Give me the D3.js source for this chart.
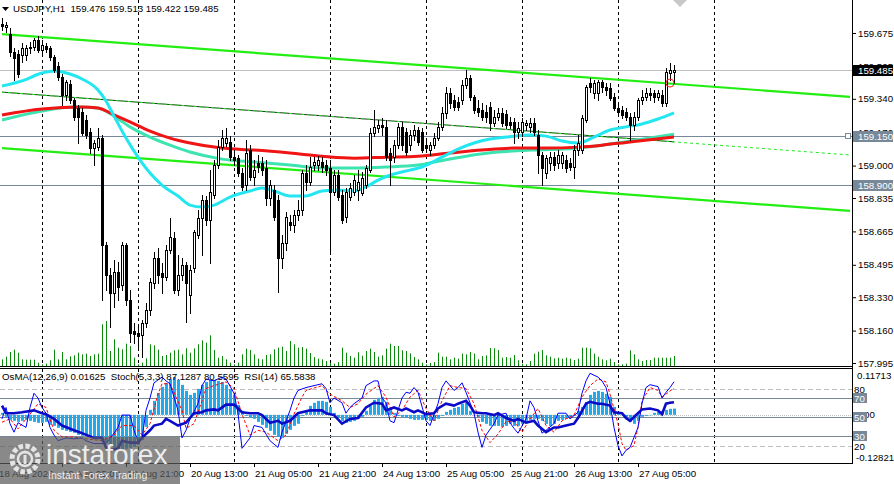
<!DOCTYPE html>
<html><head><meta charset="utf-8">
<script src="https://cdn.jsdelivr.net/npm/d3@7"></script>
<style>
html,body{margin:0;padding:0;background:#fff;}
svg{display:block;font-family:"Liberation Sans",Arial,sans-serif;}
</style></head>
<body><svg id="c" width="894" height="484"></svg>
<script>
// ---------- DATA ----------
const symbolTitle = "USDJPY,H1  159.476 159.513 159.422 159.485";
const indTitle = "OsMA(12,26,9) 0.01625  Stoch(5,3,3) 87.1287 80.5595  RSI(14) 65.5838";

const openP = [
159.721,159.705,159.670,159.578,159.568,159.563,159.563,159.598,159.603,159.639,
159.588,159.609,159.598,159.552,159.507,159.451,159.360,159.416,159.334,159.293,
159.273,159.232,159.171,159.089,159.094,159.140,158.596,158.443,158.351,158.458,
158.392,158.596,158.315,158.158,158.148,158.138,158.198,158.264,158.402,158.529,
158.453,158.433,158.570,158.631,158.366,158.443,158.494,158.341,158.478,158.647,
158.733,158.825,158.723,158.850,159.003,159.094,159.115,159.120,159.043,159.038,
158.962,158.901,159.079,158.942,159.013,159.013,158.988,158.835,158.876,158.825,
158.529,158.606,158.713,158.698,158.748,158.774,158.962,158.916,159.003,159.003,
159.018,159.003,158.988,158.866,158.952,158.850,158.738,158.840,158.866,158.876,
158.860,158.901,158.977,159.166,159.191,159.207,159.197,159.064,159.043,159.104,
159.197,159.171,159.104,159.156,159.181,159.171,159.104,159.079,159.104,159.140,
159.197,159.268,159.370,159.334,159.324,159.334,159.410,159.446,159.349,159.293,
159.283,159.273,159.298,159.217,159.247,159.268,159.263,159.222,159.222,159.171,
159.171,159.207,159.197,159.217,159.156,159.053,158.962,159.013,159.043,159.013,
159.013,159.028,159.013,158.993,159.079,159.079,159.232,159.421,159.370,159.370,
159.426,159.400,159.395,159.349,159.293,159.283,159.273,159.247,159.207,159.247,
159.334,159.349,159.370,159.370,159.349,159.360,159.319,159.471,159.476];
const highP = [
159.751,159.731,159.700,159.598,159.588,159.624,159.614,159.629,159.649,159.659,
159.639,159.624,159.609,159.563,159.527,159.466,159.436,159.436,159.344,159.309,
159.293,159.258,159.191,159.130,159.191,159.156,158.611,158.478,158.519,158.509,
158.611,158.606,158.366,158.198,158.178,158.213,158.300,158.428,158.560,158.580,
158.504,158.596,158.733,158.662,158.545,158.529,158.509,158.494,158.672,158.774,
158.850,158.845,158.977,159.028,159.130,159.181,159.191,159.150,159.079,159.053,
158.988,159.130,159.104,159.028,159.053,159.043,159.028,158.926,158.901,158.850,
158.647,158.764,158.748,158.774,158.825,158.977,159.003,159.043,159.043,159.048,
159.043,159.028,159.028,158.977,158.977,158.876,158.886,158.911,158.952,158.977,
158.967,159.003,159.191,159.283,159.232,159.242,159.232,159.089,159.130,159.216,
159.222,159.191,159.181,159.207,159.197,159.191,159.140,159.120,159.166,159.222,
159.298,159.400,159.395,159.360,159.349,159.436,159.487,159.461,159.360,159.334,
159.319,159.309,159.324,159.283,159.293,159.293,159.283,159.247,159.242,159.222,
159.242,159.232,159.242,159.242,159.181,159.069,159.053,159.069,159.069,159.079,
159.069,159.053,159.038,159.104,159.156,159.258,159.410,159.446,159.436,159.436,
159.436,159.421,159.421,159.370,159.314,159.303,159.293,159.268,159.273,159.344,
159.385,159.395,159.395,159.385,159.385,159.385,159.497,159.522,159.513];
const lowP = [
159.690,159.680,159.557,159.436,159.451,159.527,159.537,159.573,159.588,159.578,
159.573,159.578,159.537,159.477,159.436,159.309,159.334,159.319,159.232,159.115,
159.156,159.140,159.064,159.003,159.079,158.315,158.366,158.178,158.280,158.315,
158.366,158.290,158.102,158.097,158.061,158.025,158.178,158.239,158.376,158.402,
158.351,158.417,158.555,158.351,158.341,158.417,158.203,158.249,158.458,158.631,
158.545,158.698,158.504,158.835,158.988,159.079,159.099,159.028,159.003,158.947,
158.876,158.876,158.926,158.901,158.967,158.952,158.799,158.799,158.723,158.356,
158.478,158.570,158.672,158.662,158.723,158.748,158.876,158.901,158.977,158.977,
158.967,158.952,158.555,158.850,158.825,158.708,158.713,158.825,158.850,158.825,
158.850,158.886,158.967,159.150,159.171,159.156,159.028,158.901,159.018,159.089,
159.079,159.053,159.079,159.130,159.104,159.069,159.069,159.053,159.089,159.130,
159.181,159.242,159.293,159.283,159.283,159.314,159.395,159.334,159.268,159.253,
159.232,159.222,159.181,159.202,159.232,159.202,159.191,159.191,159.115,159.140,
159.150,159.181,159.171,159.156,158.962,158.901,158.937,158.977,158.977,158.988,
158.988,158.967,158.977,158.937,159.053,159.064,159.222,159.375,159.344,159.334,
159.375,159.360,159.334,159.283,159.258,159.242,159.232,159.130,159.181,159.232,
159.314,159.334,159.334,159.324,159.334,159.303,159.303,159.436,159.422];
const closeP = [
159.710,159.716,159.578,159.547,159.467,159.598,159.598,159.603,159.639,159.588,
159.614,159.593,159.552,159.487,159.451,159.360,159.426,159.334,159.247,159.247,
159.166,159.156,159.089,159.115,159.140,158.596,158.443,158.351,158.458,158.382,
158.596,158.315,158.148,158.143,158.132,158.198,158.264,158.407,158.529,158.443,
158.433,158.570,158.636,158.366,158.443,158.494,158.402,158.468,158.662,158.733,
158.825,158.723,158.866,159.003,159.094,159.140,159.140,159.043,159.028,158.962,
158.891,159.064,158.942,158.977,158.993,158.977,158.835,158.901,158.738,158.529,
158.606,158.738,158.698,158.748,158.774,158.962,158.916,158.993,159.018,159.028,
158.993,158.977,158.866,158.952,158.840,158.723,158.866,158.886,158.926,158.916,
158.936,158.988,159.166,159.197,159.207,159.197,159.043,159.028,159.104,159.197,
159.104,159.069,159.156,159.181,159.120,159.079,159.089,159.104,159.140,159.197,
159.268,159.370,159.319,159.298,159.298,159.410,159.446,159.349,159.283,159.273,
159.247,159.247,159.217,159.247,159.268,159.217,159.207,159.207,159.171,159.191,
159.222,159.217,159.217,159.171,159.053,158.988,159.038,159.043,159.003,159.053,
159.053,158.988,158.993,159.079,159.115,159.242,159.400,159.400,159.421,159.426,
159.400,159.385,159.344,159.293,159.273,159.258,159.247,159.207,159.247,159.334,
159.349,159.370,159.360,159.349,159.370,159.319,159.476,159.487,159.485];
const volumeP = [
200,280,420,490,400,200,190,190,190,100,
50,70,170,490,200,420,200,290,320,400,
350,370,300,350,370,1250,1350,450,800,550,
500,670,600,250,50,100,230,650,620,490,
300,330,400,470,490,350,530,400,530,650,
770,700,920,480,250,300,200,100,50,100,
350,520,480,350,220,200,330,350,500,550,
580,450,750,650,550,570,520,390,270,220,
200,150,100,70,120,550,400,300,250,410,
310,450,520,420,280,320,520,670,600,600,
470,450,380,270,200,100,50,90,120,400,
280,280,200,250,220,370,350,420,370,200,
300,320,540,530,480,250,270,250,330,170,
70,50,150,370,430,480,320,280,230,250,
220,250,220,180,220,550,550,530,370,280,
200,170,220,120,50,50,70,470,350,200,
150,180,180,250,250,250,250,250,300];

// moving averages: [bar index, price]
const maFast = [[0,159.405],[5,159.431],[10,159.471],[13,159.482],[17,159.466],[20,159.441],[24,159.385],[26,159.329],[28,159.252],[31,159.140],[34,159.043],[37,158.962],[40,158.901],[44,158.845],[47,158.799],[50,158.789],[53,158.799],[57,158.840],[62,158.871],[65,158.886],[68,158.871],[72,158.845],[76,158.845],[80,158.871],[84,158.876],[88,158.871],[91,158.891],[94,158.926],[98,158.957],[102,158.977],[105,158.993],[110,159.043],[114,159.084],[118,159.115],[122,159.135],[126,159.145],[132,159.156],[136,159.150],[140,159.125],[144,159.115],[148,159.145],[152,159.181],[156,159.197],[160,159.212],[164,159.237],[168,159.268]];
const maSlow = [[0,159.258],[10,159.288],[20,159.298],[24,159.293],[28,159.258],[32,159.222],[37,159.176],[42,159.140],[47,159.115],[55,159.089],[63,159.079],[72,159.064],[80,159.048],[88,159.038],[96,159.043],[104,159.048],[112,159.064],[120,159.079],[128,159.089],[136,159.089],[144,159.094],[150,159.104],[156,159.118],[162,159.132],[168,159.145]];
const maMid = [[0,159.232],[10,159.278],[18,159.298],[24,159.293],[28,159.252],[32,159.197],[37,159.145],[42,159.104],[47,159.069],[55,159.033],[63,159.018],[72,159.003],[80,158.988],[88,158.988],[96,158.993],[104,159.003],[108,159.018],[116,159.048],[124,159.069],[132,159.079],[140,159.084],[148,159.099],[156,159.122],[162,159.140],[168,159.160]];

// channel trend lines [bar index, price]
const chanUpper = [[0,159.669],[212,159.350]];
const chanMiddle = [[0,159.374],[212,159.054]];
const chanMiddleDark = [[0,159.374],[168,159.121]];
const chanLower = [[0,159.089],[212,158.769]];

const bidLevel = 159.485;
const hLevels = [159.150, 158.900];
const priceTicks = [159.675,159.505,159.340,159.170,159.000,158.835,158.665,158.495,158.330,158.160,157.995];
const alertMark = [167, 159.420];

const daySepIdx = [10,34,58,82,106,130,154,178];
const xLabelIdx = [-1,15,31,47,63,79,95,111,127,143,159];
const xLabelText = ["18 Aug 2026","19 Aug 05:00","19 Aug 21:00","20 Aug 13:00","21 Aug 05:00","21 Aug 21:00","24 Aug 13:00","25 Aug 05:00","25 Aug 21:00","26 Aug 13:00","27 Aug 05:00"];

// OsMA histogram (one value per bar)
const osma = [
0.0052,-0.0052,-0.0129,-0.0155,-0.0181,-0.0155,-0.0129,-0.0155,-0.0181,-0.0206,
-0.0206,-0.0181,-0.0258,-0.0284,-0.0335,-0.0387,-0.0413,-0.0439,-0.0464,-0.0516,
-0.0542,-0.0542,-0.0568,-0.0593,-0.0593,-0.0645,-0.0722,-0.0800,-0.0851,-0.0877,
-0.0903,-0.0877,-0.0851,-0.0826,-0.0774,-0.0645,-0.0310,0.0129,0.0361,0.0568,
0.0722,0.0826,0.0929,0.0980,0.0903,0.0774,0.0619,0.0516,0.0568,0.0671,
0.0774,0.0851,0.0903,0.0903,0.0877,0.0851,0.0774,0.0671,0.0516,0.0258,
0.0103,-0.0026,-0.0077,-0.0103,-0.0181,-0.0258,-0.0335,-0.0413,-0.0516,-0.0568,
-0.0593,-0.0490,-0.0387,-0.0284,-0.0232,-0.0026,0.0077,0.0232,0.0310,0.0361,
0.0361,0.0335,0.0206,0.0052,-0.0077,-0.0155,-0.0206,-0.0181,-0.0155,-0.0103,
-0.0052,0.0103,0.0232,0.0387,0.0439,0.0464,0.0335,0.0181,0.0052,-0.0026,
-0.0052,-0.0077,-0.0103,-0.0129,-0.0129,-0.0129,-0.0129,-0.0155,-0.0155,-0.0103,
-0.0026,0.0077,0.0129,0.0181,0.0206,0.0284,0.0310,0.0103,0.0000,-0.0052,
-0.0181,-0.0232,-0.0284,-0.0284,-0.0284,-0.0310,-0.0284,-0.0232,-0.0284,-0.0284,
-0.0232,-0.0181,-0.0129,-0.0103,-0.0103,-0.0155,-0.0232,-0.0284,-0.0232,-0.0155,
-0.0129,-0.0103,-0.0052,-0.0026,0.0103,0.0206,0.0335,0.0516,0.0593,0.0619,
0.0593,0.0542,0.0464,0.0206,0.0026,0.0000,-0.0052,-0.0181,-0.0232,-0.0155,
-0.0052,-0.0026,0.0000,0.0052,0.0077,0.0103,0.0129,0.0155,0.01625];

// Stochastic main / signal and RSI: [bar index, value]
const stochMain = [[0,48],[1,60],[2,43],[3,34],[4,44],[6,39],[7,60],[8,75],[9,70],[10,60],[11,54],[12,39],[13,31],[14,25],[16,28],[18,27],[20,28],[21,25],[23,22],[25,22],[26,22],[28,33],[29,39],[30,52],[32,52],[33,36],[34,25],[35,27],[36,57],[37,70],[38,86],[40,92],[41,88],[42,85],[44,57],[45,28],[46,36],[47,48],[49,64],[50,83],[51,90],[53,88],[55,92],[56,90],[58,75],[59,54],[60,17],[62,28],[63,41],[65,39],[67,25],[69,18],[70,34],[72,57],[73,70],[74,78],[76,81],[78,83],[80,85],[81,80],[82,65],[83,70],[85,65],[86,54],[87,60],[88,64],[90,70],[91,83],[93,88],[94,88],[95,70],[96,65],[97,46],[98,44],[100,70],[101,76],[102,75],[103,81],[104,76],[106,46],[107,41],[109,64],[110,81],[111,88],[112,83],[113,78],[114,81],[115,86],[116,76],[118,54],[119,34],[120,18],[121,31],[123,43],[124,52],[126,54],[127,44],[128,38],[129,33],[131,48],[132,67],[133,60],[134,46],[135,33],[136,36],[138,43],[139,54],[141,54],[142,48],[144,55],[145,75],[146,88],[147,96],[149,92],[150,88],[151,81],[152,64],[153,39],[154,20],[155,9],[156,15],[157,18],[159,39],[160,64],[161,81],[162,84],[164,82],[165,70],[166,76],[167,81],[168,87.1287]];
const stochSignal = [[0,44.5],[2,48],[4,37.5],[7,53],[9,64],[11,60],[13,36],[15,29],[18,29],[21,27],[25,25],[28,31],[30,41],[33,41],[35,31],[37,43],[39,74],[40,85],[42,85],[45,57],[46,38],[48,43],[50,67],[51,80],[53,83],[56,87],[58,80],[60,53],[62,31],[64,36],[66,34],[69,25],[71,31],[73,53],[75,71],[76,78],[80,83],[82,74],[85,67],[87,60],[89,64],[91,74],[94,83],[96,71],[98,50],[100,57],[102,71],[104,78],[106,59],[108,46],[110,67],[112,83],[114,81],[116,80],[118,64],[120,36],[122,23],[124,32],[126,45],[128,46],[130,34],[132,48],[134,59],[136,41],[138,34],[140,46],[143,52],[145,71],[147,83],[149,90],[151,87],[152,74],[154,43],[155,22],[156,15],[158,20],[159,39],[160,67],[162,81],[164,78],[165,71],[166,74],[168,80.5595]];
const rsi = [[0,62],[1,54],[3,54],[5,55],[8,57],[10,54],[11,53],[13,48],[15,41],[18,36],[20,33],[23,28],[25,28],[26,18],[27,15],[29,17],[30,25],[32,23],[34,23],[35,28],[37,36],[38,41],[40,43],[41,48],[42,46],[44,41],[46,44],[48,54],[50,55],[51,57],[53,58],[54,57],[56,63],[58,63],[59,59],[60,55],[62,54],[64,54],[65,52],[67,44],[69,46],[70,43],[72,46],[74,54],[77,57],[80,57],[81,54],[83,52],[85,43],[87,48],[89,49],[91,60],[93,65],[95,64],[96,57],[98,60],[100,57],[101,59],[103,55],[104,57],[106,53],[108,54],[109,59],[111,64],[113,62],[114,64],[116,67],[117,62],[118,55],[120,54],[121,54],[123,52],[124,54],[126,49],[128,46],[129,48],[131,44],[133,46],[134,41],[136,34],[138,39],[139,39],[141,41],[143,43],[144,49],[146,64],[147,66],[149,64],[150,64],[152,62],[153,55],[155,54],[156,49],[157,46],[159,54],[160,58],[162,59],[164,57],[165,53],[166,64],[167,65],[168,65.5838]];
const oscLevelsSolid = [70,50,30];
const oscLevelsDash = [80,20];
const osmaRange = [-0.12821, 0.11713];

// ---------- LAYOUT ----------
const svg = d3.select('#c');
const AX = 852, MB = 366, IT = 369, IB = 464;
const x = d3.scaleLinear().domain([0,212]).range([2,850]);
const y = d3.scaleLinear().domain([157.995,159.675]).range([363,33]);
const yVol = d3.scaleLinear().domain([0,1350]).range([MB,321]);
const yOsc = d3.scaleLinear().domain([0,100]).range([464.5,369.5]);
const yOsma = d3.scaleLinear().domain(osmaRange).range([464.5,369.5]);
const px = i => Math.round(x(i));

const defs = svg.append('defs');
defs.append('clipPath').attr('id','cm').append('rect').attr('x',0).attr('y',0).attr('width',AX).attr('height',MB);
defs.append('clipPath').attr('id','ci').append('rect').attr('x',0).attr('y',IT).attr('width',AX).attr('height',IB-IT-1);

const main = svg.append('g').attr('clip-path','url(#cm)');
const ind = svg.append('g').attr('clip-path','url(#ci)');

// day separators
daySepIdx.filter(i=>x(i)<AX-40).forEach(i=>{
  const xx = px(i)+0.5;
  main.append('line').attr('x1',xx).attr('x2',xx).attr('y1',0).attr('y2',MB)
    .attr('stroke','#000').attr('stroke-dasharray','3,3');
  ind.append('line').attr('x1',xx).attr('x2',xx).attr('y1',IT).attr('y2',IB)
    .attr('stroke','#000').attr('stroke-dasharray','3,3');
});

// horizontal levels
main.append('line').attr('x1',0).attr('x2',AX).attr('y1',Math.round(y(bidLevel))+0.5).attr('y2',Math.round(y(bidLevel))+0.5)
  .attr('stroke','#c0c0c0');
hLevels.forEach(v=>{
  const yy = Math.round(y(v))+0.5;
  main.append('line').attr('x1',0).attr('x2',AX).attr('y1',yy).attr('y2',yy).attr('stroke','#778899');
});
{
  const yy = Math.round(y(hLevels[0]));
  main.append('rect').attr('x',AX-6.5).attr('y',yy-2.5).attr('width',5).attr('height',5)
    .attr('fill','#fff').attr('stroke','#778899');
}

// volumes
main.selectAll('line.vol').data(volumeP).enter().append('line')
  .attr('x1',(d,i)=>px(i)+0.5).attr('x2',(d,i)=>px(i)+0.5)
  .attr('y1',MB).attr('y2',d=>yVol(d)).attr('stroke','#0a8a0a').attr('stroke-width',1);

// channel lines
const lineP = d3.line().x(d=>x(d[0])).y(d=>y(d[1]));
main.append('path').attr('d',lineP(chanMiddleDark)).attr('fill','none').attr('stroke','#1a3a1a').attr('stroke-width',1);
main.append('path').attr('d',lineP(chanMiddle)).attr('fill','none').attr('stroke','#22e822').attr('stroke-width',1).attr('stroke-dasharray','3,3');
[chanUpper, chanLower].forEach(c=>{
  main.append('path').attr('d',lineP(c)).attr('fill','none').attr('stroke','#22ee11').attr('stroke-width',2.2);
});

// moving averages
const lineMA = d3.line().x(d=>x(d[0])).y(d=>y(d[1])).curve(d3.curveMonotoneX);
main.append('path').attr('d',lineMA(maMid)).attr('fill','none').attr('stroke','#3de3b0').attr('stroke-width',3);
main.append('path').attr('d',lineMA(maSlow)).attr('fill','none').attr('stroke','#f01414').attr('stroke-width',3);
main.append('path').attr('d',lineMA(maFast)).attr('fill','none').attr('stroke','#22e6f0').attr('stroke-width',3);

// candles
const bars = d3.range(openP.length).map(i=>({i,o:openP[i],h:highP[i],l:lowP[i],c:closeP[i]}));
const cg = main.append('g');
bars.forEach(b=>{
  const cx = px(b.i);
  cg.append('line').attr('x1',cx+0.5).attr('x2',cx+0.5).attr('y1',Math.round(y(b.h))).attr('y2',Math.round(y(b.l))+1)
    .attr('stroke','#000');
  const yt = Math.round(y(Math.max(b.o,b.c))), yb = Math.round(y(Math.min(b.o,b.c)));
  if (b.c >= b.o) {
    cg.append('rect').attr('x',cx-0.5).attr('y',yt+0.5).attr('width',2).attr('height',Math.max(yb-yt,1))
      .attr('fill','#fff').attr('stroke','#000').attr('stroke-width',1);
  } else {
    cg.append('rect').attr('x',cx-1).attr('y',yt).attr('width',3).attr('height',Math.max(yb-yt,1)+1)
      .attr('fill','#000');
  }
});

// alert marker
main.append('circle').attr('cx',x(alertMark[0])).attr('cy',y(alertMark[1])).attr('r',4)
  .attr('fill','none').attr('stroke','#ff2020').attr('stroke-width',1);

// top marker triangle (chart shift)
svg.append('path').attr('d','M673,0 L687,0 L680,7 Z').attr('fill','#c8c8c8');

// header
svg.append('path').attr('d','M2,7 L9,7 L5.5,11 Z').attr('fill','#000');
svg.append('text').attr('x',13).attr('y',12).attr('font-size',9.7).attr('fill','#000')
  .attr('xml:space','preserve').style('white-space','pre').text(symbolTitle);

// frames
const frame = svg.append('g').attr('stroke','#000').attr('stroke-width',1);
frame.append('line').attr('x1',AX+0.5).attr('x2',AX+0.5).attr('y1',0).attr('y2',IB);
frame.append('line').attr('x1',0).attr('x2',AX+1).attr('y1',MB+0.5).attr('y2',MB+0.5);
frame.append('line').attr('x1',0).attr('x2',AX+1).attr('y1',IT-0.5).attr('y2',IT-0.5);
frame.append('line').attr('x1',0).attr('x2',AX+1).attr('y1',IB-0.5).attr('y2',IB-0.5);

// price axis
const axis = svg.append('g').attr('transform',`translate(${AX+1},0)`)
  .call(d3.axisRight(y).tickValues(priceTicks).tickSize(3).tickSizeOuter(0).tickFormat(d3.format('.3f')));
axis.select('.domain').remove();
axis.selectAll('text').attr('font-size',9.7).attr('font-family','"Liberation Sans",Arial,sans-serif').attr('x',5).attr('fill','#000');
axis.selectAll('line').attr('stroke','#000');

function priceBox(v, bg) {
  const yy = Math.round(y(v));
  svg.append('rect').attr('x',AX+1).attr('y',yy-5).attr('width',40).attr('height',11).attr('fill',bg);
  svg.append('text').attr('x',AX+6).attr('y',yy+4).attr('font-size',9.7).attr('fill','#fff').text(v.toFixed(3));
}
priceBox(bidLevel,'#000');
hLevels.forEach(v=>priceBox(v,'#778899'));

// ---------- INDICATOR PANEL ----------
oscLevelsDash.forEach(v=>{
  const yy = Math.round(yOsc(v))+0.5;
  ind.append('line').attr('x1',0).attr('x2',AX).attr('y1',yy).attr('y2',yy)
    .attr('stroke','#c0c0c0').attr('stroke-dasharray','5,3');
});
{
  const yy = Math.round(yOsma(0))+0.5;
  ind.append('line').attr('x1',0).attr('x2',AX).attr('y1',yy).attr('y2',yy)
    .attr('stroke','#c0c0c0').attr('stroke-dasharray','1,1');
}
oscLevelsSolid.forEach(v=>{
  const yy = Math.round(yOsc(v))+0.5;
  ind.append('line').attr('x1',0).attr('x2',AX).attr('y1',yy).attr('y2',yy).attr('stroke','#778899');
});

// OsMA histogram
const z0 = yOsma(0);
ind.selectAll('rect.os').data(osma).enter().append('rect')
  .attr('x',(d,i)=>px(i)-1).attr('width',3)
  .attr('y',d=>Math.min(z0,yOsma(d))).attr('height',d=>Math.max(0.5,Math.abs(yOsma(d)-z0)))
  .attr('fill','#22aaee');

const lineO = d3.line().x(d=>x(d[0])).y(d=>yOsc(d[1]));
ind.append('path').attr('d',lineO(stochSignal)).attr('fill','none').attr('stroke','#ff0000').attr('stroke-width',1).attr('stroke-dasharray','3,2');
ind.append('path').attr('d',lineO(stochMain)).attr('fill','none').attr('stroke','#0000ff').attr('stroke-width',1);
ind.append('path').attr('d',lineO(rsi)).attr('fill','none').attr('stroke','#0a0ac8').attr('stroke-width',2.6);

svg.append('text').attr('x',2).attr('y',380).attr('font-size',9.7).attr('fill','#000')
  .style('white-space','pre').text(indTitle);

// indicator right labels
const rl = svg.append('g').attr('font-size',9.7).attr('fill','#000');
rl.append('text').attr('x',AX+5).attr('y',yOsma(osmaRange[1])+9).text(osmaRange[1].toFixed(5));
rl.append('text').attr('x',AX+4).attr('y',yOsma(osmaRange[0])-4).text(osmaRange[0].toFixed(5));
rl.append('text').attr('x',AX+4).attr('y',yOsma(0)+3).text('0.00');
oscLevelsDash.forEach(v=>{
  rl.append('text').attr('x',AX+2).attr('y',yOsc(v)+4).text(v);
});
oscLevelsSolid.forEach(v=>{
  const yy = Math.round(yOsc(v));
  rl.append('rect').attr('x',AX+1).attr('y',yy-5).attr('width',14).attr('height',10).attr('fill','#778899');
  rl.append('text').attr('x',AX+2).attr('y',yy+4).attr('fill','#fff').text(v);
});

// x axis labels
const xl = svg.append('g').attr('font-size',9.7).attr('fill','#000');
xLabelIdx.forEach((i,k)=>{
  const xx = px(i);
  xl.append('line').attr('x1',xx+0.5).attr('x2',xx+0.5).attr('y1',IB).attr('y2',IB+3).attr('stroke','#000');
  xl.append('text').attr('x',xx+1).attr('y',477).text(xLabelText[k]);
});

// ---------- WATERMARK ----------
const wm = svg.append('g');
wm.append('rect').attr('x',0).attr('y',437).attr('width',180).attr('height',47).attr('fill','#5c5c5c').attr('opacity',0.72);
wm.append('circle').attr('cx',25).attr('cy',459).attr('r',13).attr('fill','none')
  .attr('stroke','#e4e4e4').attr('stroke-width',5).attr('stroke-dasharray','4.5,2.3');
wm.append('circle').attr('cx',25).attr('cy',459).attr('r',7).attr('fill','none').attr('stroke','#e4e4e4').attr('stroke-width',2.5);
wm.append('rect').attr('x',23.5).attr('y',455).attr('width',3).attr('height',9).attr('fill','#e4e4e4');
wm.append('circle').attr('cx',25).attr('cy',452).attr('r',1.6).attr('fill','#e4e4e4');
wm.append('text').attr('x',46).attr('y',464).attr('font-size',28).attr('fill','#ececec')
  .attr('font-family','"Liberation Sans",Arial,sans-serif').text('instaforex');
wm.append('text').attr('x',48).attr('y',479).attr('font-size',10.5).attr('fill','#ececec').text('Instant Forex Trading');
</script>
</body></html>
